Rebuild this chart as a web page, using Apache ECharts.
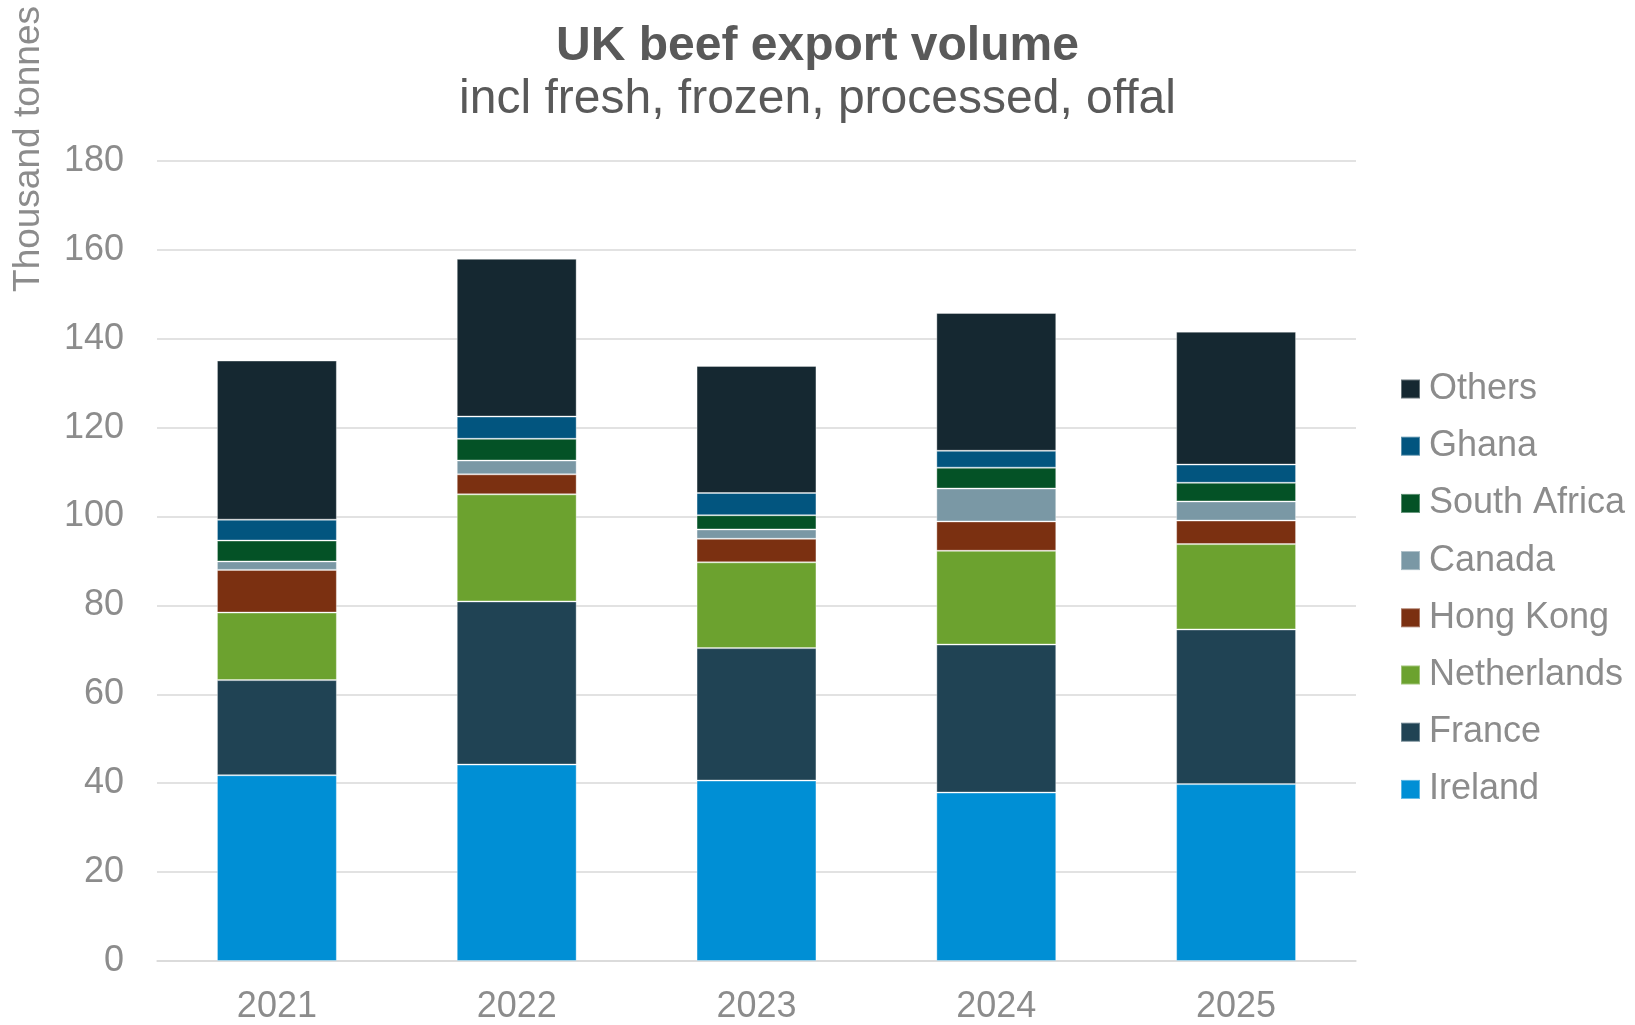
<!DOCTYPE html>
<html>
<head>
<meta charset="utf-8">
<title>UK beef export volume</title>
<script src="https://cdn.jsdelivr.net/npm/echarts@6/dist/echarts.min.js"></script>
<style>
  html, body { margin: 0; padding: 0; background: #ffffff; }
  #chart { width: 1635px; height: 1025px; }
</style>
</head>
<body>
<div id="chart"></div>
<script>
// Export volumes by destination, thousand tonnes
const years = ['2021', '2022', '2023', '2024', '2025'];
const ireland     = [41.8, 44.2, 40.6, 37.9, 39.8];
const france      = [21.4, 36.7, 29.8, 33.3, 34.8];
const netherlands = [15.2, 24.1, 19.3, 21.1, 19.2];
const hongKong    = [9.6, 4.5, 5.3, 6.6, 5.3];
const canada      = [1.9, 3.1, 2.1, 7.4, 4.3];
const southAfrica = [4.7, 4.9, 3.2, 4.7, 4.2];
const ghana       = [4.7, 5.0, 5.0, 3.8, 4.1];
const others      = [35.8, 35.5, 28.6, 31.0, 29.9];
const yTicks = [0, 20, 40, 60, 80, 100, 120, 140, 160, 180];

const FONT = 'Arial, "Liberation Sans", sans-serif';
const GREY = '#8c8c8c';

// stacked from the bottom up
const seriesDefs = [
  { name: 'Ireland',      data: ireland,     color: '#008fd5' },
  { name: 'France',       data: france,      color: '#204354' },
  { name: 'Netherlands',  data: netherlands, color: '#6ca22f' },
  { name: 'Hong Kong',    data: hongKong,    color: '#7b3011' },
  { name: 'Canada',       data: canada,      color: '#7a98a5' },
  { name: 'South Africa', data: southAfrica, color: '#045226' },
  { name: 'Ghana',        data: ghana,       color: '#02557f' },
  { name: 'Others',       data: others,      color: '#152831' }
];

const chart = echarts.init(document.getElementById('chart'), null, { renderer: 'canvas' });

chart.setOption({
  backgroundColor: '#ffffff',
  animation: false,
  textStyle: { fontFamily: FONT },
  title: {
    text: 'UK beef export volume',
    subtext: 'incl fresh, frozen, processed, offal',
    left: 'center',
    top: 18,
    itemGap: 5,
    textStyle: { fontFamily: FONT, fontSize: 48, fontWeight: 'bold', color: '#595959', lineHeight: 48 },
    subtextStyle: { fontFamily: FONT, fontSize: 48, color: '#595959', lineHeight: 48 }
  },
  legend: {
    orient: 'vertical',
    left: 1400,
    top: 371,
    padding: 0,
    itemWidth: 19,
    itemHeight: 19,
    itemGap: 21.2,
    icon: 'rect',
    data: seriesDefs.map(s => s.name).reverse(),
    textStyle: { fontFamily: FONT, fontSize: 36, color: GREY, lineHeight: 36, padding: [0, 0, 0, 4] }
  },
  grid: { left: 157, right: 279, top: 161, bottom: 62, containLabel: false },
  xAxis: {
    type: 'category',
    data: years,
    axisLine: { show: true, lineStyle: { color: '#d9d9d9', width: 1.5 } },
    axisTick: { show: false },
    axisLabel: { fontFamily: FONT, fontSize: 36, color: GREY, margin: 28 }
  },
  yAxis: {
    type: 'value',
    min: yTicks[0],
    max: yTicks[yTicks.length - 1],
    interval: yTicks[1] - yTicks[0],
    axisLine: { show: false },
    axisTick: { show: false },
    splitLine: { lineStyle: { color: '#d9d9d9', width: 1.5 } },
    axisLabel: { fontFamily: FONT, fontSize: 36, color: GREY, margin: 33 }
  },
  graphic: [{
    type: 'text',
    x: 29,
    y: 149,
    rotation: Math.PI / 2,
    style: {
      text: 'Thousand tonnes',
      font: '37px ' + FONT,
      fill: GREY,
      align: 'center',
      verticalAlign: 'middle'
    }
  }],
  series: seriesDefs.map(s => ({
    name: s.name,
    type: 'bar',
    stack: 'total',
    barWidth: '50%',
    data: s.data,
    itemStyle: { color: s.color, borderColor: 'rgba(255,255,255,0.35)', borderWidth: 1 },
    emphasis: { disabled: true }
  }))
});
</script>
</body>
</html>
